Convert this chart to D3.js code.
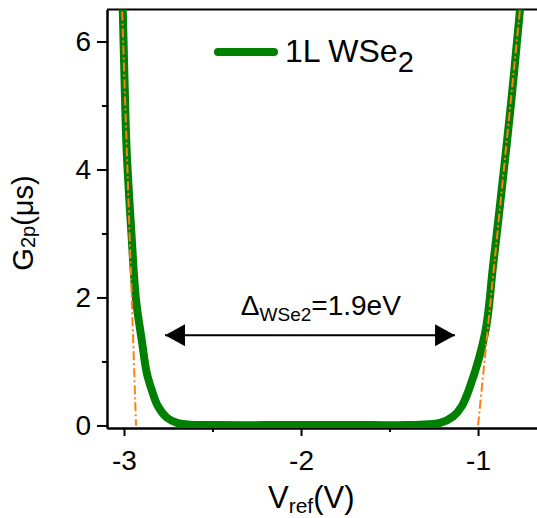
<!DOCTYPE html>
<html>
<head>
<meta charset="utf-8">
<script src="https://cdn.jsdelivr.net/npm/d3@7"></script>
<style>
body {
  margin: 0;
  background: #fff;
}
text {
  font-family: "Liberation Sans", Arial, sans-serif;
  fill: #000;
}
.axis path, .axis line {
  stroke: #000;
  stroke-width: 2px;
}
.axis text {
  font-size: 28px;
  font-family: "Liberation Sans", Arial, sans-serif;
}
</style>
</head>
<body>
<div id="plot"></div>

<script>
// G2p curve of 1L WSe2 (V in volts, G in us)
var curveV = [-3.012, -3.007, -2.997, -2.985, -2.958, -2.932, -2.900, -2.872, -2.844, -2.808, -2.757, -2.700, -2.620,
              -2.500, -2.200, -1.900, -1.600, -1.400, -1.330, -1.215, -1.141, -1.092, -1.045, -0.960, -0.915, -0.873,
              -0.812, -0.763, -0.750];
var curveG = [6.9, 6.5, 5.4, 4.3, 3.0, 1.96, 1.34, 0.83, 0.56, 0.30, 0.12, 0.04, 0.01,
              0.005, 0.005, 0.005, 0.005, 0.005, 0.01, 0.04, 0.14, 0.30, 0.61, 1.45, 2.5, 3.52,
              5.08, 6.5, 6.9];

// linear fits (orange dash-dot) to the band edges
var fitLeftV = [-3.017, -2.932];
var fitLeftG = [7.0, 0];
var fitRightV = [-1.000, -0.745];
var fitRightG = [0, 7.0];

// gap arrow
var arrowV = [-2.768, -1.130];
var arrowG = 1.41;
var gapLabel = "=1.9eV";

var xTicks = [-3, -2, -1];
var xMinor = [-2.5, -1.5];
var yTicks = [0, 2, 4, 6];
var yMinor = [1, 3, 5];

var width = 537, height = 518;
var plotLeft = 107, plotRight = 537, plotTop = 9.5, plotBottom = 428;

var x = d3.scaleLinear()
  .domain([-3.096, -0.667])
  .range([plotLeft, plotRight]);

var y = d3.scaleLinear()
  .domain([-0.04, 6.5])
  .range([plotBottom, plotTop]);

var svg = d3.select('#plot')
  .append('svg')
  .attr('width', width)
  .attr('height', height);

svg.append('defs').append('clipPath')
  .attr('id', 'clip')
  .append('rect')
  .attr('x', plotLeft)
  .attr('y', plotTop)
  .attr('width', plotRight - plotLeft)
  .attr('height', plotBottom - plotTop);

// Upper border line
svg.append('line')
  .attr('x1', plotLeft)
  .attr('x2', plotRight)
  .attr('y1', plotTop)
  .attr('y2', plotTop)
  .style('stroke', '#000')
  .style('stroke-width', 2);

// axes
var xAxis = d3.axisBottom(x)
  .tickValues(xTicks)
  .tickSize(8)
  .tickPadding(14)
  .tickSizeOuter(0)
  .tickFormat(function(d){ return String(d); });

var xAxisMinor = d3.axisBottom(x)
  .tickValues(xMinor)
  .tickSize(4)
  .tickSizeOuter(0)
  .tickFormat('');

var yAxis = d3.axisLeft(y)
  .tickValues(yTicks)
  .tickSize(10)
  .tickPadding(6)
  .tickSizeOuter(0)
  .tickFormat(d3.format('d'));

var yAxisMinor = d3.axisLeft(y)
  .tickValues(yMinor)
  .tickSize(5)
  .tickSizeOuter(0)
  .tickFormat('');

svg.append('g')
  .attr('class', 'x axis')
  .attr('transform', 'translate(0,' + plotBottom + ')')
  .call(xAxis);

svg.append('g')
  .attr('class', 'x axis')
  .attr('transform', 'translate(0,' + plotBottom + ')')
  .call(xAxisMinor);

svg.append('g')
  .attr('class', 'y axis')
  .attr('transform', 'translate(' + plotLeft + ',0)')
  .call(yAxis);

svg.append('g')
  .attr('class', 'y axis')
  .attr('transform', 'translate(' + plotLeft + ',0)')
  .call(yAxisMinor);

svg.selectAll('.axis text').style('font-family', '"Liberation Sans", Arial, sans-serif');

// data
var plotArea = svg.append('g').attr('clip-path', 'url(#clip)');

var curveData = curveV.map(function(v, i){ return {v: v, g: curveG[i]}; });

var line = d3.line()
  .x(function(d){ return x(d.v); })
  .y(function(d){ return y(d.g); })
  .curve(d3.curveCatmullRom.alpha(0.5));

plotArea.append('path')
  .datum(curveData)
  .attr('d', line)
  .style('fill', 'none')
  .style('stroke', '#008000')
  .style('stroke-width', 8)
  .style('stroke-linejoin', 'round');

var fitLine = d3.line()
  .x(function(d){ return x(d.v); })
  .y(function(d){ return y(d.g); });

[[fitLeftV, fitLeftG], [fitRightV, fitRightG]].forEach(function(f){
  var pts = f[0].map(function(v, i){ return {v: v, g: f[1][i]}; });
  plotArea.append('path')
    .datum(pts)
    .attr('d', fitLine)
    .style('fill', 'none')
    .style('stroke', '#ff7f0e')
    .style('stroke-width', 2)
    .style('stroke-dasharray', '9,3,2,3');
});

// double arrow for the gap
var defs = svg.select('defs');
defs.append('marker')
  .attr('id', 'head')
  .attr('viewBox', '0 0 20 22')
  .attr('refX', 20)
  .attr('refY', 11)
  .attr('markerWidth', 20)
  .attr('markerHeight', 22)
  .attr('markerUnits', 'userSpaceOnUse')
  .attr('orient', 'auto-start-reverse')
  .append('path')
  .attr('d', 'M0,0L20,11L0,22Z')
  .style('fill', '#000');

svg.append('line')
  .attr('x1', x(arrowV[0]))
  .attr('x2', x(arrowV[1]))
  .attr('y1', y(arrowG))
  .attr('y2', y(arrowG))
  .style('stroke', '#000')
  .style('stroke-width', 2)
  .attr('marker-start', 'url(#head)')
  .attr('marker-end', 'url(#head)');

var gapText = svg.append('text')
  .attr('x', x(-2.34))
  .attr('y', y(1.73))
  .style('font-size', '28px');
gapText.append('tspan').text('\u0394');
gapText.append('tspan').attr('dy', 6).style('font-size', '19px').text('WSe2');
gapText.append('tspan').attr('dy', -6).text(gapLabel);

// legend
svg.append('line')
  .attr('x1', 218)
  .attr('x2', 274)
  .attr('y1', 52)
  .attr('y2', 52)
  .style('stroke', '#008000')
  .style('stroke-width', 8)
  .style('stroke-linecap', 'round');

var legText = svg.append('text')
  .attr('x', 285)
  .attr('y', 62)
  .style('font-size', '32px');
legText.append('tspan').text('1L WSe');
legText.append('tspan').attr('dy', 10).style('font-size', '29px').text('2');

// axis labels
var xLab = svg.append('text')
  .attr('x', 268)
  .attr('y', 508)
  .style('font-size', '31px');
xLab.append('tspan').text('V');
xLab.append('tspan').attr('dy', 5).style('font-size', '21px').text('ref');
xLab.append('tspan').attr('dy', -5).text('(V)');

var yLab = svg.append('text')
  .attr('transform', 'translate(33,223) rotate(-90)')
  .attr('text-anchor', 'middle')
  .style('font-size', '29px');
yLab.append('tspan').text('G');
yLab.append('tspan').attr('dy', 2).style('font-size', '20px').text('2p');
yLab.append('tspan').attr('dy', -2).text('(\u03bcs)');
</script>
</body>
</html>
